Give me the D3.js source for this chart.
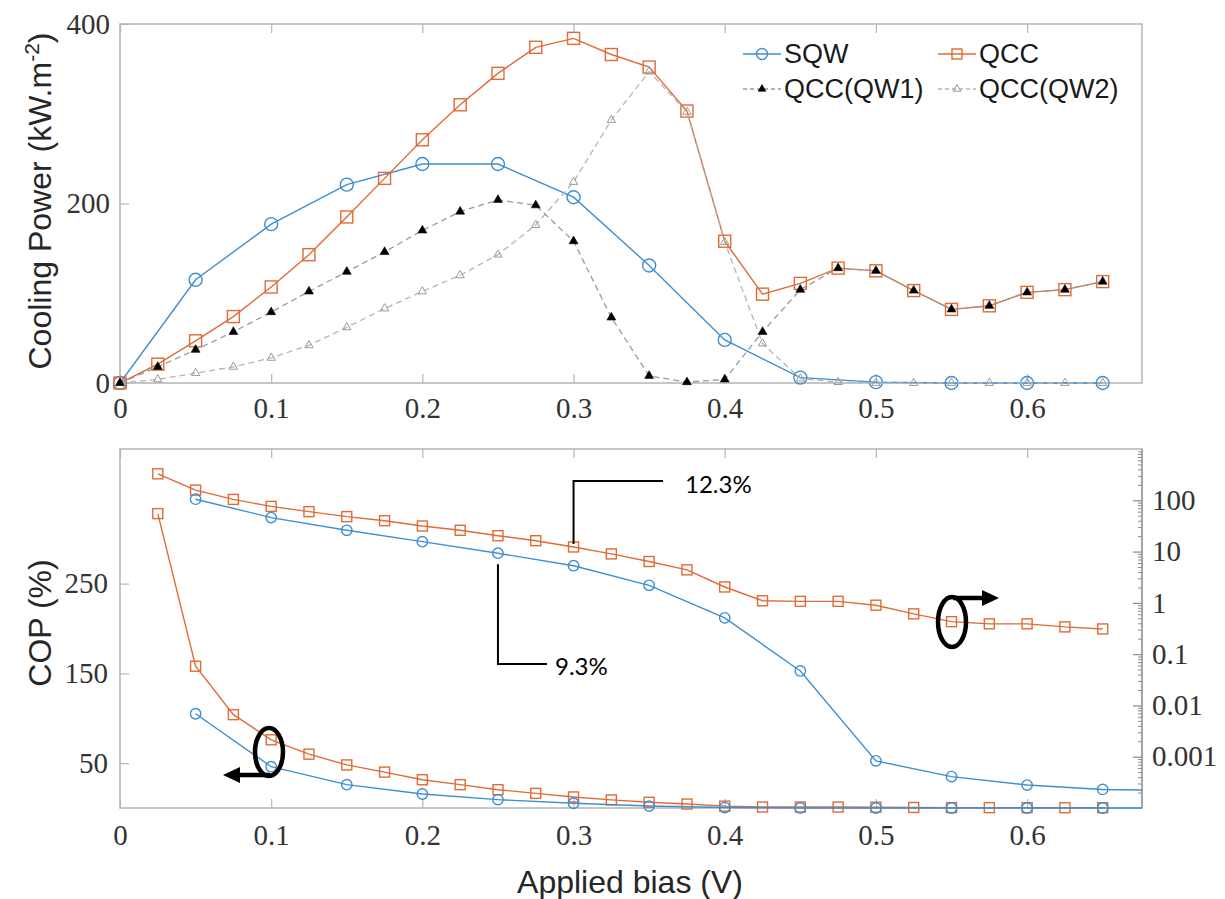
<!DOCTYPE html>
<html>
<head>
<meta charset="utf-8">
<script src="https://cdn.jsdelivr.net/npm/d3@7"></script>
</head>
<body style="margin:0">
<svg id="chart" width="1225" height="899"></svg>
<script>
// ---- data ----
// bias points, 25 mV step (QCC family) and 50 mV step (SQW)
const biasFine = [0, 0.025, 0.05, 0.075, 0.1, 0.125, 0.15, 0.175, 0.2, 0.225, 0.25, 0.275, 0.3,
  0.325, 0.35, 0.375, 0.4, 0.425, 0.45, 0.475, 0.5, 0.525, 0.55, 0.575, 0.6, 0.625, 0.65];
const biasCoarse = [0, 0.05, 0.1, 0.15, 0.2, 0.25, 0.3, 0.35, 0.4, 0.45, 0.5, 0.55, 0.6, 0.65];

// cooling power, kW/m^2
const cpSQW = [0, 115, 177, 221, 244, 244, 207, 131, 48, 6, 1, 0, 0, 0];
const cpQCC = [0, 21, 47, 74, 107, 143, 185, 228, 271, 310, 345, 374, 384, 366, 352, 303, 158,
  99, 111, 128, 125, 103, 82, 86, 101, 104, 113];
const cpQW1 = [0, 18, 37, 57, 79, 102, 124, 146, 170, 191, 204, 198, 158, 73, 8, 1, 4,
  57, 104, 128, 125, 103, 82, 86, 101, 104, 113];
const cpQW2 = [0, 4, 11, 18, 28, 42, 62, 83, 102, 120, 143, 176, 224, 293, 347, 302, 157,
  44, 5, 1, 0, 0, 0, 0, 0, 0, 0];

// COP (%), same values drawn on linear (left) and log (right) axes
const copBiasQCC = [0.025, 0.05, 0.075, 0.1, 0.125, 0.15, 0.175, 0.2, 0.225, 0.25, 0.275, 0.3,
  0.325, 0.35, 0.375, 0.4, 0.425, 0.45, 0.475, 0.5, 0.525, 0.55, 0.575, 0.6, 0.625, 0.65];
const copQCC = [328, 158, 104, 76, 60, 48, 40, 31.5, 26, 20.4, 16.3, 12.3, 9.0, 6.4, 4.4, 2.04,
  1.1, 1.07, 1.07, 0.9, 0.61, 0.43, 0.39, 0.39, 0.34, 0.31];
const copBiasSQW = [0.05, 0.1, 0.15, 0.2, 0.25, 0.3, 0.35, 0.4, 0.45, 0.5, 0.55, 0.6, 0.65, 0.7];
const copSQW = [105, 46, 26, 15.6, 9.3, 5.3, 2.2, 0.51, 0.047, 0.00083, 0.00041, 0.00028, 0.00023, 0.00022];

const xTicks = [0, 0.1, 0.2, 0.3, 0.4, 0.5, 0.6];
const cpTicks = [0, 200, 400];
const copTicks = [50, 150, 250];
const logTicks = [0.001, 0.01, 0.1, 1, 10, 100];

// ---- styles ----
const BLUE = "#3d8fd1";
const ORANGE = "#e06b36";
const FRAME = "#b4b4b4";
const TXT = "#333";
const SERIF = "Liberation Serif";
const SANS = "Liberation Sans";
const NOTE = "Lato";

// set a font both as attribute and inline style
const font = (sel, fam, size) => sel
  .attr("font-family", fam).style("font-family", `"${fam}"`)
  .attr("font-size", size).style("font-size", size + "px");

const svg = d3.select("#chart");
svg.append("rect").attr("width", 1225).attr("height", 899).attr("fill", "#fff");

const L = 120, R = 1142;
const x = d3.scaleLinear().domain([0, 0.676]).range([L, R]);

const pTop = { t: 24, b: 383, pad: 14 };
const pBot = { t: 449, b: 808, pad: 16 };
const yCP = d3.scaleLinear().domain([0, 400]).range([pTop.b, pTop.t]);
const yCOP = d3.scaleLinear().domain([0, 400]).range([pBot.b, pBot.t]);
const yLog = d3.scaleLog().domain([1e-4, 1e3]).range([pBot.b, pBot.t]);

const fmtX = d => d === 0 ? "0" : d3.format(".1f")(d);

function styleAxis(g, fontSize) {
  font(g, SERIF, fontSize);
  g.select(".domain").remove();
  g.selectAll(".tick line").attr("stroke", FRAME).attr("stroke-width", 1.2);
  font(g.selectAll(".tick text").attr("fill", TXT), SERIF, fontSize);
}

function frame(p) {
  svg.append("rect")
    .attr("x", L).attr("y", p.t).attr("width", R - L).attr("height", p.b - p.t)
    .attr("fill", "none").attr("stroke", FRAME).attr("stroke-width", 1.5);
  // inward x ticks top and bottom
  svg.append("g").attr("transform", `translate(0,${p.b})`)
    .call(d3.axisBottom(x).tickValues(xTicks).tickFormat(fmtX).tickSizeInner(-9).tickSizeOuter(0)
      .tickPadding(p.pad))
    .call(g => styleAxis(g, 29));
  svg.append("g").attr("transform", `translate(0,${p.t})`)
    .call(d3.axisTop(x).tickValues(xTicks).tickFormat("").tickSizeInner(-9).tickSizeOuter(0))
    .call(g => styleAxis(g, 29));
}

svg.append("clipPath").attr("id", "clipTop")
  .append("rect").attr("x", L).attr("y", pTop.t - 10).attr("width", R - L).attr("height", pTop.b - pTop.t + 20);
svg.append("clipPath").attr("id", "clipBot")
  .append("rect").attr("x", L).attr("y", pBot.t).attr("width", R - L).attr("height", pBot.b - pBot.t + 2);

function marker(g, type, cx, cy, s) {
  if (type === "circle") {
    g.append("circle").attr("cx", cx).attr("cy", cy).attr("r", s.size)
      .attr("fill", "none").attr("stroke", s.color).attr("stroke-width", 1.4);
  } else if (type === "square") {
    g.append("rect").attr("x", cx - s.size).attr("y", cy - s.size)
      .attr("width", 2 * s.size).attr("height", 2 * s.size)
      .attr("fill", "none").attr("stroke", s.color).attr("stroke-width", 1.4);
  } else if (type === "tri") {
    g.append("path").attr("d", d3.symbol(d3.symbolTriangle, s.size)())
      .attr("transform", `translate(${cx},${cy})`)
      .attr("fill", s.fill).attr("stroke", s.color).attr("stroke-width", s.fill === "none" ? 1 : 0.6);
  }
}

function series(xs, ys, yScale, s, clipId) {
  const g = svg.append("g");
  const line = d3.line().x((d, i) => x(xs[i])).y(d => yScale(d));
  g.append("path").datum(ys).attr("d", line)
    .attr("clip-path", `url(#${clipId})`)
    .attr("fill", "none").attr("stroke", s.line || s.color).attr("stroke-width", s.width || 1.4)
    .attr("stroke-dasharray", s.dash || null);
  ys.forEach((v, i) => {
    if (xs[i] <= x.domain()[1]) marker(g, s.marker, x(xs[i]), yScale(v), s);
  });
}

// ================= top panel: cooling power =================
frame(pTop);
svg.append("g").attr("transform", `translate(${L},0)`)
  .call(d3.axisLeft(yCP).tickValues(cpTicks).tickSizeInner(-9).tickSizeOuter(0).tickPadding(10))
  .call(g => styleAxis(g, 29));

const stSQW = { marker: "circle", color: BLUE, size: 6.5 };
const stQCC = { marker: "square", color: ORANGE, size: 6 };
const stQW1 = { marker: "tri", color: "#000", fill: "#000", size: 34, line: "#9a9a9a", dash: "6,4", width: 1.3 };
const stQW2 = { marker: "tri", color: "#9a9a9a", fill: "none", size: 30, line: "#b5b5b5", dash: "6,4", width: 1.3 };

series(biasCoarse, cpSQW, yCP, stSQW, "clipTop");
series(biasFine, cpQCC, yCP, stQCC, "clipTop");
series(biasFine, cpQW2, yCP, stQW2, "clipTop");
series(biasFine, cpQW1, yCP, stQW1, "clipTop");

// legend
const legend = [
  { label: "SQW", st: stSQW, x: 743, y: 63 },
  { label: "QCC", st: stQCC, x: 938, y: 63 },
  { label: "QCC(QW1)", st: stQW1, x: 743, y: 98 },
  { label: "QCC(QW2)", st: stQW2, x: 938, y: 98 },
];
legend.forEach(d => {
  const g = svg.append("g");
  const cy = d.y - 9;
  g.append("line").attr("x1", d.x).attr("x2", d.x + 38).attr("y1", cy).attr("y2", cy)
    .attr("stroke", d.st.line || d.st.color).attr("stroke-width", 1.4)
    .attr("stroke-dasharray", d.st.dash ? "4,3" : null);
  marker(g, d.st.marker, d.x + 19, cy, Object.assign({}, d.st, { size: d.st.marker === "tri" ? 26 : d.st.size - 1 }));
  font(g.append("text").attr("x", d.x + 41).attr("y", d.y).text(d.label), SANS, 27)
    .attr("fill", "#1a1a1a");
});

// y label
const cpLabel = font(svg.append("text"), SANS, 32)
  .attr("transform", "translate(51,201) rotate(-90)")
  .attr("text-anchor", "middle")
  .attr("fill", "#262626");
cpLabel.append("tspan").text("Cooling Power (kW.m");
cpLabel.append("tspan").attr("dy", -12).style("font-size", "21px").text("-2");
cpLabel.append("tspan").attr("dy", 12).text(")");

// ================= bottom panel: COP =================
frame(pBot);
svg.append("g").attr("transform", `translate(${L},0)`)
  .call(d3.axisLeft(yCOP).tickValues(copTicks).tickSizeInner(-9).tickSizeOuter(0).tickPadding(12))
  .call(g => styleAxis(g, 29));

// right log axis with minor ticks
const minor = [];
for (let e = -4; e < 3; e++) for (let m = 2; m <= 9; m++) minor.push(m * Math.pow(10, e));
svg.append("g").attr("transform", `translate(${R},0)`)
  .call(d3.axisRight(yLog).tickValues(minor).tickFormat("").tickSizeInner(-4).tickSizeOuter(0))
  .call(g => styleAxis(g, 29))
  .call(g => g.selectAll(".tick line").attr("stroke", "#8a8a8a").attr("stroke-width", 1));
svg.append("g").attr("transform", `translate(${R},0)`)
  .call(d3.axisRight(yLog).tickValues(logTicks).tickFormat(d3.format("~g")).tickSizeInner(-9).tickSizeOuter(0).tickPadding(10))
  .call(g => styleAxis(g, 29))
  .call(g => g.selectAll(".tick line").attr("stroke", "#8a8a8a"));
svg.append("line").attr("x1", R).attr("x2", R).attr("y1", pBot.t).attr("y2", pBot.b)
  .attr("stroke", "#9a9a9a").attr("stroke-width", 1.5);

const stSQWb = { marker: "circle", color: BLUE, size: 5.2 };
const stQCCb = { marker: "square", color: ORANGE, size: 5 };

series(copBiasQCC, copQCC, yCOP, stQCCb, "clipBot");
series(copBiasSQW, copSQW, yCOP, stSQWb, "clipBot");
series(copBiasQCC, copQCC, yLog, stQCCb, "clipBot");
series(copBiasSQW, copSQW, yLog, stSQWb, "clipBot");

// callouts
const callout = svg.append("g").attr("fill", "none").attr("stroke", "#000").attr("stroke-width", 2);
const qIdx = copBiasQCC.indexOf(0.3), sIdx = copBiasSQW.indexOf(0.25);
const qx = x(0.3), qy = yLog(copQCC[qIdx]);
const sx = x(0.25), sy = yLog(copSQW[sIdx]);
callout.append("path").attr("d", `M${qx},${qy - 3} V481 H663`);
callout.append("path").attr("d", `M${sx},${sy + 11} V664 H547`);
font(svg.append("text").attr("x", 685).attr("y", 493).text("12.3%"), NOTE, 24).attr("fill", "#000");
font(svg.append("text").attr("x", 555).attr("y", 675).text("9.3%"), NOTE, 24).attr("fill", "#000");

// axis indicator circles + arrows
const ind = svg.append("g");
ind.append("ellipse").attr("cx", 269).attr("cy", 752).attr("rx", 14).attr("ry", 24)
  .attr("fill", "none").attr("stroke", "#000").attr("stroke-width", 4.5);
ind.append("line").attr("x1", 270).attr("x2", 236).attr("y1", 775).attr("y2", 775)
  .attr("stroke", "#000").attr("stroke-width", 4.5);
ind.append("path").attr("d", "M223,775 L240,767 L240,783 Z").attr("fill", "#000");

ind.append("ellipse").attr("cx", 952).attr("cy", 622).attr("rx", 14).attr("ry", 25)
  .attr("fill", "none").attr("stroke", "#000").attr("stroke-width", 4.5);
ind.append("line").attr("x1", 953).attr("x2", 986).attr("y1", 598).attr("y2", 598)
  .attr("stroke", "#000").attr("stroke-width", 4.5);
ind.append("path").attr("d", "M999,598 L982,590 L982,606 Z").attr("fill", "#000");

// labels
font(svg.append("text"), SANS, 32)
  .attr("transform", "translate(51,623) rotate(-90)")
  .attr("text-anchor", "middle")
  .attr("fill", "#262626")
  .text("COP (%)");
font(svg.append("text"), SANS, 32)
  .attr("x", 630).attr("y", 893).attr("text-anchor", "middle")
  .attr("fill", "#262626")
  .text("Applied bias (V)");
</script>
</body>
</html>
